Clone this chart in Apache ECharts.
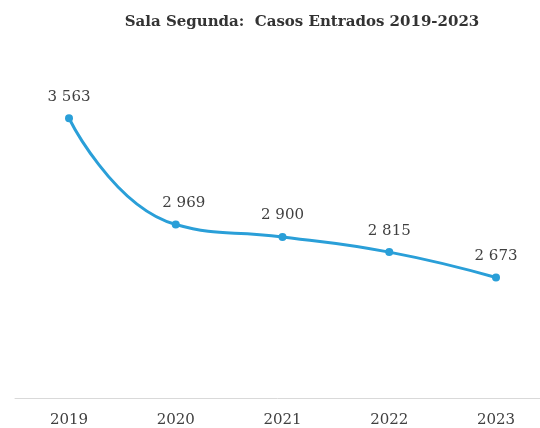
<!DOCTYPE html>
<html>
<head>
<meta charset="utf-8">
<script src="https://cdn.jsdelivr.net/npm/echarts@6/dist/echarts.min.js"></script>
<style>
  html, body { margin: 0; padding: 0; background: #fff; }
  #chart { width: 540px; height: 428px; }
</style>
</head>
<body>
<div id="chart"></div>
<script>
const years = ['2019', '2020', '2021', '2022', '2023']
const casos = [3563, 2969, 2900, 2815, 2673]
// the 2020 label sits a bit to the right in the original
const labelShift = [0, 8, 0, 0, 0]

const fmt = v => String(v).replace(/\B(?=(\d{3})+(?!\d))/g, ' ')
const serif = 'DejaVu Serif'

const chart = echarts.init(document.getElementById('chart'))
chart.setOption({
  animation: false,
  title: {
    text: 'Sala Segunda:  Casos Entrados 2019-2023',
    left: 297,
    textAlign: 'center',
    top: 10,
    textStyle: {
      fontFamily: serif,
      fontWeight: 'bold',
      fontSize: 15,
      color: '#333'
    }
  },
  // first grid holds the data, second one only draws the long baseline
  grid: [
    { left: 69, right: 44, top: 40, bottom: 30 },
    { left: 15, right: 0, top: 40, bottom: 30 }
  ],
  xAxis: [
    {
      type: 'category',
      data: years,
      boundaryGap: false,
      gridIndex: 0,
      axisLine: { show: false },
      axisTick: { show: false },
      axisLabel: {
        margin: 15,
        fontFamily: serif,
        fontSize: 15,
        color: '#404040'
      }
    },
    {
      type: 'category',
      data: years,
      gridIndex: 1,
      axisLine: { lineStyle: { color: '#d9d9d9', width: 1 } },
      axisTick: { show: false },
      axisLabel: { show: false }
    }
  ],
  yAxis: [
    { type: 'value', min: 2000, max: 4000, show: false, gridIndex: 0 },
    { type: 'value', min: 2000, max: 4000, show: false, gridIndex: 1 }
  ],
  series: [
    {
      type: 'line',
      xAxisIndex: 0,
      yAxisIndex: 0,
      smooth: 0.5,
      data: casos.map((v, i) => ({
        value: v,
        label: { offset: [labelShift[i], 0] }
      })),
      symbol: 'circle',
      symbolSize: 8,
      lineStyle: { color: '#2a9fd8', width: 3 },
      itemStyle: { color: '#2a9fd8' },
      label: {
        show: true,
        position: 'top',
        distance: 10,
        formatter: p => fmt(p.value),
        fontFamily: serif,
        fontSize: 15,
        color: '#404040'
      }
    }
  ]
})
</script>
</body>
</html>
